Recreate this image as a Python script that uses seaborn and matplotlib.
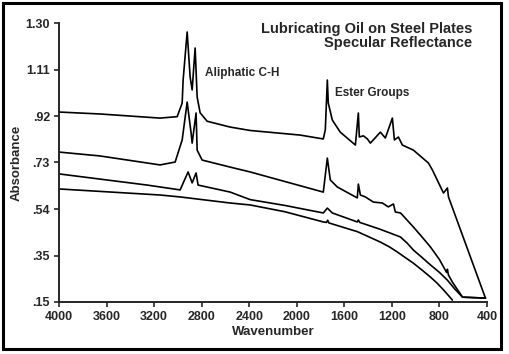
import numpy as np
import pandas as pd
import matplotlib
matplotlib.use('Agg')
import matplotlib.pyplot as plt
import seaborn as sns
from matplotlib.patches import Rectangle

# Spectra (wavenumber, absorbance)
wn_1 = [4000, 3655, 3150, 3006, 2964, 2956, 2922, 2897, 2880, 2855, 2838, 2813,
        2754, 2560, 2392, 1971, 1777, 1760, 1743, 1735, 1701, 1634, 1507, 1482,
        1474, 1440, 1406, 1381, 1297, 1255, 1196, 1179, 1145, 1112, 1019, 893,
        859, 766, 733, 724, 413]
abs_1 = [0.933, 0.925, 0.908, 0.914, 0.970, 1.065, 1.263, 1.077, 1.024, 1.197, 0.995, 0.930,
         0.895, 0.871, 0.857, 0.838, 0.822, 0.860, 1.065, 0.970, 0.900, 0.850, 0.797, 0.929,
         0.830, 0.835, 0.822, 0.805, 0.850, 0.826, 0.908, 0.818, 0.830, 0.797, 0.776, 0.723,
         0.694, 0.599, 0.620, 0.583, 0.166]

wn_2 = [4000, 3655, 3150, 3023, 2964, 2922, 2889, 2880, 2847, 2838, 2796, 2560,
        2392, 1777, 1743, 1718, 1659, 1491, 1482, 1465, 1423, 1356, 1280, 1230,
        1187, 1171, 1128, 1112, 1019, 950, 876, 800, 740, 733, 725, 691, 606, 413]
abs_2 = [0.768, 0.752, 0.715, 0.727, 0.818, 0.974, 0.847, 0.805, 0.929, 0.776, 0.735, 0.706,
         0.686, 0.603, 0.743, 0.653, 0.624, 0.579, 0.636, 0.591, 0.583, 0.562, 0.558, 0.542,
         0.554, 0.521, 0.517, 0.509, 0.459, 0.420, 0.377, 0.325, 0.272, 0.285, 0.262, 0.232,
         0.170, 0.166]

wn_3 = [4000, 3259, 2981, 2956, 2914, 2880, 2847, 2830, 2560, 2392, 2100, 1777, 1743,
        1701, 1491, 1482, 1470, 1300, 1128, 1070, 1019, 950, 876, 800, 733, 670, 606, 413]
abs_3 = [0.678, 0.632, 0.612, 0.640, 0.686, 0.641, 0.682, 0.632, 0.603, 0.572, 0.548, 0.517,
         0.537, 0.517, 0.480, 0.488, 0.478, 0.450, 0.418, 0.392, 0.364, 0.335, 0.303, 0.272,
         0.240, 0.203, 0.170, 0.166]

wn_4 = [4000, 3150, 2981, 2560, 2392, 2100, 1777, 1750, 1740, 1730, 1491, 1400, 1297,
        1220, 1154, 1090, 1019, 950, 876, 820, 766, 730, 691]
abs_4 = [0.616, 0.591, 0.583, 0.558, 0.550, 0.522, 0.480, 0.478, 0.487, 0.476, 0.440, 0.420,
         0.397, 0.377, 0.356, 0.334, 0.310, 0.283, 0.253, 0.228, 0.200, 0.180, 0.158]

x_ticks = [4000, 3600, 3200, 2800, 2400, 2000, 1600, 1200, 800, 400]
y_ticks = list(np.linspace(0.15, 1.30, 7))
y_tick_labels = ['.15', '.35', '.54', '.73', '.92', '1.11', '1.30']

frames = []
for i, (w, a) in enumerate([(wn_1, abs_1), (wn_2, abs_2), (wn_3, abs_3), (wn_4, abs_4)]):
    frames.append(pd.DataFrame({'wavenumber': w, 'absorbance': a, 'sample': i}))
df = pd.concat(frames, ignore_index=True)

sns.set_style('ticks')
plt.rcParams['font.family'] = ['Liberation Sans', 'DejaVu Sans']
narrow = ['Liberation Sans Narrow', 'Liberation Sans', 'DejaVu Sans']

fig = plt.figure(figsize=(5.09, 3.54), dpi=100)
ax = fig.add_axes([59 / 509, 1 - 302 / 354, (487 - 59) / 509, (302 - 23) / 354])

sns.lineplot(data=df, x='wavenumber', y='absorbance', units='sample',
             estimator=None, sort=False, color='black', linewidth=1.2, ax=ax)

ax.set_xlim(4000, 400)
ax.set_ylim(0.15, 1.30)
ax.set_xticks(x_ticks)
ax.set_xticklabels([str(t) for t in x_ticks], fontsize=9, fontweight='bold')
ax.set_yticks(y_ticks)
ax.set_yticklabels(y_tick_labels, fontsize=9, fontweight='bold')
ax.tick_params(axis='both', direction='out', length=3.5, width=1.2, pad=3)
sns.despine(ax=ax)
for s in ['left', 'bottom']:
    ax.spines[s].set_linewidth(1.4)

ax.set_xlabel('Wavenumber', fontsize=9.5, fontweight='bold', labelpad=2)
ax.set_ylabel('Absorbance', fontsize=9.5, fontweight='bold', labelpad=2)

ax.text(522, 1.305, 'Lubricating Oil on Steel Plates\nSpecular Reflectance',
        ha='right', va='top', fontsize=10.5, fontweight='bold', family=narrow,
        linespacing=1.0)
ax.text(2771, 1.094, 'Aliphatic C-H', ha='left', va='center', fontsize=8.5,
        fontweight='bold', family=narrow)
ax.text(1676, 1.011, 'Ester Groups', ha='left', va='center', fontsize=8.5,
        fontweight='bold', family=narrow)

fig.patches.append(Rectangle((3 / 509, 5 / 354), 498 / 509, 346 / 354,
                             transform=fig.transFigure, fill=False,
                             edgecolor='black', linewidth=2.2))

fig.savefig('out.png', dpi=100)
